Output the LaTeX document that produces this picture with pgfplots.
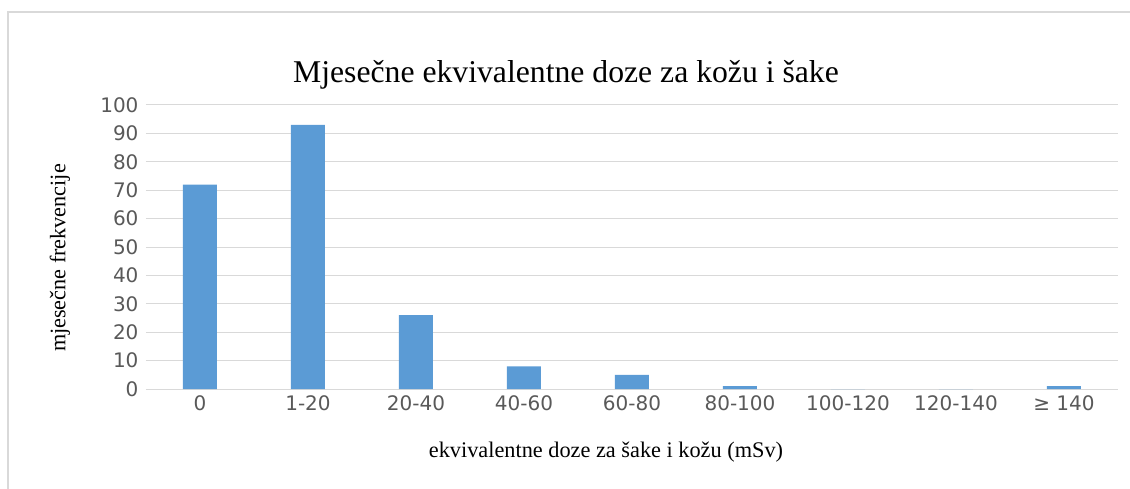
\documentclass[border=0pt]{standalone}
\usepackage{pgfplots}
\pgfplotsset{compat=1.18}
\usepackage{fontspec}
\setmainfont{Liberation Serif}
\newfontfamily\tickfont{DejaVu Sans}
\definecolor{barblue}{HTML}{5B9BD5}
\definecolor{gridgray}{HTML}{D9D9D9}
\definecolor{ticktext}{HTML}{595959}
\begin{document}
\begin{tikzpicture}
\begin{axis}[
  scale only axis,
  width=972pt, height=284pt,
  xmin=-0.5, xmax=8.5, ymin=0, ymax=100,
  ybar, bar width=34pt,
  xtick=data,
  xticklabels={0,1-20,20-40,40-60,60-80,80-100,100-120,120-140,{≥ 140}},
  ytick={0,10,...,100},
  ymajorgrids, grid style={gridgray, line width=1pt},
  axis line style={draw=none},
  major tick length=0pt,
  tick label style={font=\tickfont\fontsize{20}{22}\selectfont, text=ticktext},
  /pgf/number format/assume math mode=true,
  yticklabel style={xshift=-4pt},
  xticklabel style={yshift=-3pt},
]
\addplot[fill=barblue, draw=none] coordinates {(0,72) (1,93) (2,26) (3,8) (4,5) (5,1) (6,0) (7,0) (8,1)};
\end{axis}
\path[use as bounding box] (-146pt,-99pt) rectangle (984pt,389pt);
\draw[gridgray, line width=1.2pt] (-138pt,-110pt) -- (-138pt,377pt) -- (995pt,377pt);
\node[font=\fontsize{31.7}{35}\selectfont] at (420pt,314pt) {Mjesečne ekvivalentne doze za kožu i šake};
\node[font=\fontsize{22.2}{25}\selectfont, rotate=90] at (-86pt,131pt) {mjesečne frekvencije};
\node[font=\fontsize{22.3}{25}\selectfont] at (460pt,-63pt) {ekvivalentne doze za šake i kožu (mSv)};
\end{tikzpicture}
\end{document}
